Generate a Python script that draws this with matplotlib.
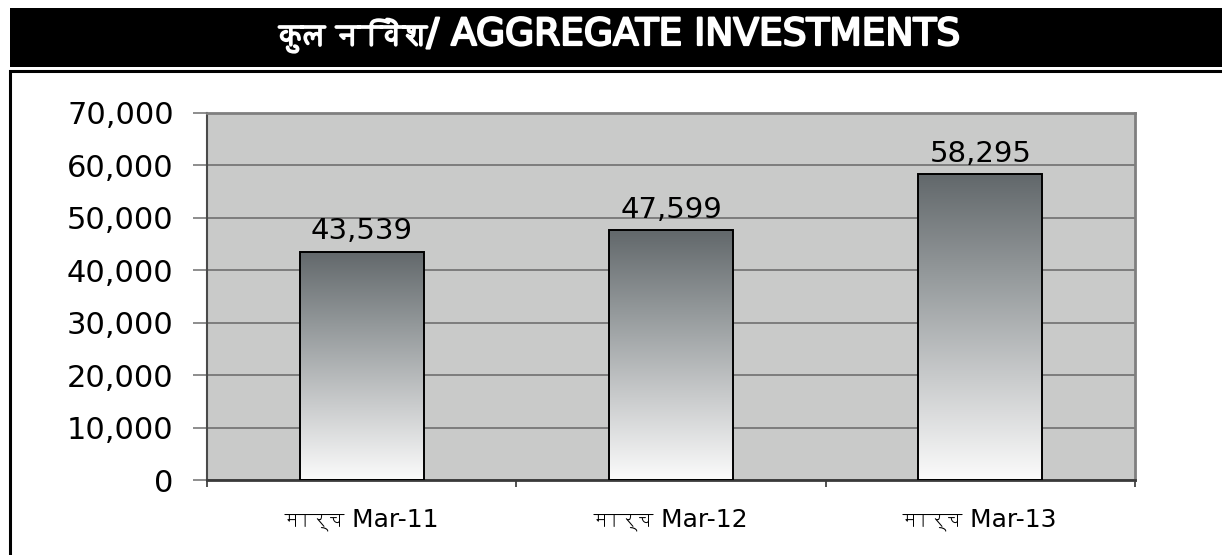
import numpy as np
import matplotlib
import matplotlib.pyplot as plt
from matplotlib import ticker
from matplotlib import font_manager
from matplotlib import patheffects
from matplotlib.ft2font import FT2Font
from matplotlib.patches import Rectangle
from matplotlib.colors import LinearSegmentedColormap

matplotlib.use("Agg")

# data
categories = ["मार्च Mar-11", "मार्च Mar-12", "मार्च Mar-13"]
investments = [43539, 47599, 58295]
y_ticks = [0, 10000, 20000, 30000, 40000, 50000, 60000, 70000]
title = "कुल निवेश/ AGGREGATE INVESTMENTS"


def devanagari_family():
    # installed font with Devanagari glyphs, bitmap-style unifont last
    found = []
    for f in font_manager.fontManager.ttflist:
        try:
            if 0x0915 in FT2Font(f.fname).get_charmap():
                found.append(f.name)
        except Exception:
            pass
    found.sort(key=lambda n: "unifont" in n.lower())
    return found[0] if found else None


deva = devanagari_family()
families = ["DejaVu Sans", deva] if deva else ["DejaVu Sans"]
plt.rcParams["font.family"] = families

W, H = 1222, 555
fig = plt.figure(figsize=(W / 100, H / 100), dpi=100)
fig.patch.set_facecolor("white")

# black title banner
fig.patches.append(Rectangle((10 / W, 1 - 67 / H), 1.0, 59 / H, transform=fig.transFigure,
                             facecolor="black", edgecolor="none"))
# the Devanagari font has no bold face, so thicken the strokes instead
fig.text(620 / W, 1 - 35 / H, title, color="white", fontsize=27,
         ha="center", va="center", family=families,
         path_effects=[patheffects.withStroke(linewidth=1.6, foreground="white")])

# outer frame below the banner
fig.patches.append(Rectangle((9.5 / W, -0.1), 1.0, 1 - 71 / H + 0.1, transform=fig.transFigure,
                             facecolor="none", edgecolor="black", linewidth=2.2))

ax = fig.add_axes([207 / W, 1 - 480 / H, 928 / W, 367 / H])
ax.set_facecolor("#c9cac9")

x = np.arange(len(categories))
bars = ax.bar(x, investments, width=0.4, facecolor="none", edgecolor="black",
              linewidth=1.4, zorder=3)

cmap = LinearSegmentedColormap.from_list("barfill", ["#fbfbfb", "#c9cbcc", "#959a9c", "#62686b"])
grad = np.linspace(0, 1, 256).reshape(-1, 1)
for b in bars:
    x0, w, h = b.get_x(), b.get_width(), b.get_height()
    im = ax.imshow(grad, cmap=cmap, origin="lower", aspect="auto",
                   extent=(x0, x0 + w, 0, h), zorder=2)
    im.set_clip_path(b)

for xi, v in zip(x, investments):
    ax.text(xi, v + 1200, f"{v:,}", ha="center", va="bottom", fontsize=21, color="black")

ax.set_xlim(-0.5, len(categories) - 0.5)
ax.set_ylim(0, 70000)
ax.set_yticks(y_ticks)
ax.yaxis.set_major_formatter(ticker.StrMethodFormatter("{x:,.0f}"))
ax.set_xticks(x)
ax.set_xticklabels(categories, fontsize=18)
ax.set_xticks(np.arange(len(categories) + 1) - 0.5, minor=True)

ax.tick_params(axis="y", length=10, width=1.2, color="#7a7a7a", pad=14, labelsize=22)
ax.tick_params(axis="x", which="major", length=0, pad=20)
ax.tick_params(axis="x", which="minor", length=5, width=1.2, color="#333333")

ax.yaxis.grid(True, color="#6f6f6f", linewidth=1.2)
ax.set_axisbelow(True)

ax.spines["left"].set_color("#4a4a4a")
ax.spines["left"].set_linewidth(1.5)
ax.spines["bottom"].set_color("#3a3a3a")
ax.spines["bottom"].set_linewidth(2)
for s in ("top", "right"):
    ax.spines[s].set_color("#7f7f7f")
    ax.spines[s].set_linewidth(2)

fig.savefig("out.png", dpi=100)
